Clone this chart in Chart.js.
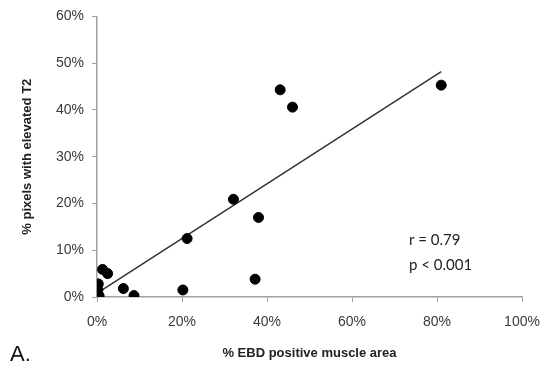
<!DOCTYPE html>
<html>
<head>
<meta charset="utf-8">
<script src="https://cdn.jsdelivr.net/npm/chart.js@4"></script>
<style>
  html, body { margin: 0; padding: 0; background: #fff; }
  #wrap { width: 547px; height: 372px; }
</style>
</head>
<body>
<div id="wrap"><canvas id="chart" width="547" height="372"></canvas></div>
<script>
// % EBD positive muscle area (x) vs % pixels with elevated T2 (y)
const ebdArea = [81, 43.1, 46.0, 32.1, 38.0, 21.2, 37.2, 20.2, 6.2, 8.7, 1.3, 2.5, 0.3, 0.2, 0.3, 0.2, 0.5];
const elevatedT2 = [45.3, 44.3, 40.6, 20.9, 17.0, 12.5, 3.8, 1.5, 1.8, 0.3, 5.9, 5.0, 2.8, 1.5, 0.5, 0, 0.2];

// fitted line end points
const fitX = [0.5, 81];
const fitY = [1.1, 48.2];

const xTicks = [0, 20, 40, 60, 80, 100];
const yTicks = [0, 10, 20, 30, 40, 50, 60];

const stats = ['r = 0.79', 'p < 0.001'];
const panelLabel = 'A.';

const points = ebdArea.map((x, i) => ({ x: x, y: elevatedT2[i] }));
const fit = fitX.map((x, i) => ({ x: x, y: fitY[i] }));

const textPlugin = {
  id: 'extraText',
  afterDraw(chart) {
    const ctx = chart.ctx;
    ctx.save();
    ctx.fillStyle = '#222';
    ctx.font = '15px Lato, "Open Sans", sans-serif';
    ctx.textBaseline = 'middle';
    ctx.textAlign = 'left';
    ctx.fillText(stats[0], 409, 240);
    ctx.fillText(stats[1], 409, 265);
    ctx.font = '22px "Liberation Sans", Arial, sans-serif';
    ctx.fillStyle = '#111';
    ctx.fillText(panelLabel, 10, 355);
    ctx.restore();
  }
};

new Chart(document.getElementById('chart'), {
  type: 'scatter',
  data: {
    datasets: [
      {
        label: 'data',
        data: points,
        backgroundColor: '#000',
        borderColor: '#000',
        pointRadius: 5,
        pointHoverRadius: 5
      },
      {
        label: 'fit',
        type: 'line',
        data: fit,
        borderColor: '#333',
        borderWidth: 1.5,
        pointRadius: 0,
        fill: false
      }
    ]
  },
  options: {
    responsive: false,
    animation: false,
    layout: { padding: { left: 0, right: 25, top: 15, bottom: 0 } },
    plugins: {
      legend: { display: false },
      tooltip: { enabled: false }
    },
    scales: {
      x: {
        type: 'linear',
        min: 0,
        max: 100,
        afterBuildTicks: s => { s.ticks = xTicks.map(v => ({ value: v })); },
        afterFit: s => { s.height = 75; s.paddingRight = 5; },
        grid: { drawOnChartArea: false, drawTicks: true, tickLength: 5, color: '#a0a0a0' },
        border: { color: '#a0a0a0', width: 1.5 },
        ticks: {
          callback: v => v + '%',
          color: '#3a3a3a',
          font: { family: '"Liberation Sans", Arial, sans-serif', size: 14 },
          padding: 12,
          maxRotation: 0
        },
        title: {
          display: true,
          text: '% EBD positive muscle area',
          color: '#222',
          font: { family: '"Liberation Sans", Arial, sans-serif', size: 13, weight: 'bold' },
          padding: { top: 10, bottom: 11 }
        }
      },
      y: {
        type: 'linear',
        min: 0,
        max: 60,
        afterBuildTicks: s => { s.ticks = yTicks.map(v => ({ value: v })); },
        afterFit: s => { s.width = 97; },
        grid: { drawOnChartArea: false, drawTicks: true, tickLength: 5, color: '#a0a0a0' },
        border: { color: '#a0a0a0', width: 1.5 },
        ticks: {
          callback: v => v + '%',
          color: '#3a3a3a',
          font: { family: '"Liberation Sans", Arial, sans-serif', size: 14 },
          padding: 8
        },
        title: {
          display: true,
          text: '% pixels with elevated T2',
          color: '#222',
          font: { family: '"Liberation Sans", Arial, sans-serif', size: 13, weight: 'bold' },
          padding: { top: 20, bottom: 10 }
        }
      }
    }
  },
  plugins: [textPlugin]
});
</script>
</body>
</html>
